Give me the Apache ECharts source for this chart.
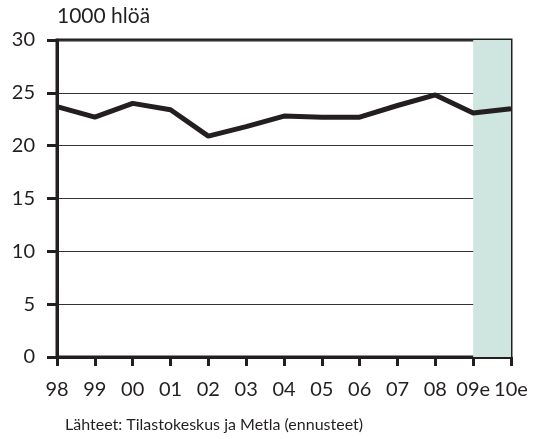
<!DOCTYPE html>
<html><head><meta charset="utf-8">
<script src="https://cdn.jsdelivr.net/npm/echarts@6/dist/echarts.min.js"></script>
<style>html,body{margin:0;padding:0;background:#fff}#c{width:538px;height:439px}</style>
</head><body><div id="c"></div>
<script>
const categories = ['98','99','00','01','02','03','04','05','06','07','08','09e','10e'];
const values = [23.7, 22.7, 24.0, 23.4, 20.9, 21.8, 22.8, 22.7, 22.7, 23.8, 24.8, 23.1, 23.5];
const forecastStart = '09e';
const forecastEnd = '10e';
const unitLabel = '1000 hlöä';
const sourceText = 'Lähteet: Tilastokeskus ja Metla (ennusteet)';
const FONT = 'Lato';
const INK = '#231f20';
const chart = echarts.init(document.getElementById('c'), null, {renderer:'canvas'});
chart.setOption({
  animation:false,
  backgroundColor:'#fff',
  textStyle:{fontFamily:FONT},
  grid:{left:57,right:27,top:40,bottom:82,show:true,borderColor:INK,borderWidth:3,backgroundColor:'transparent'},
  graphic:[
    {type:'text',left:57,top:6,style:{text:unitLabel,font:'21px '+FONT,fill:INK}},
    {type:'text',left:65,top:417,style:{text:sourceText,font:'16px '+FONT,fill:INK}}
  ],
  xAxis:{type:'category',data:categories,boundaryGap:false,
    axisLine:{lineStyle:{color:INK,width:3}},
    axisTick:{show:true,length:9,interval:0,lineStyle:{color:INK,width:3}},
    axisLabel:{color:INK,fontSize:20,margin:23,interval:0,fontFamily:FONT},
    splitLine:{show:false}},
  yAxis:{type:'value',min:0,max:30,interval:5,
    axisLine:{show:true,lineStyle:{color:INK,width:3}},
    axisTick:{show:true,length:10,lineStyle:{color:INK,width:3}},
    axisLabel:{color:INK,fontSize:20,margin:22,fontFamily:FONT},
    splitLine:{show:true,lineStyle:{color:'#333',width:1.2}}},
  series:[{type:'line',data:values,symbol:'none',
    lineStyle:{color:INK,width:5},z:5,
    markArea:{silent:true,itemStyle:{color:'#cfe5df'},data:[[{xAxis:forecastStart},{xAxis:forecastEnd}]]}
  }]
});
</script></body></html>
